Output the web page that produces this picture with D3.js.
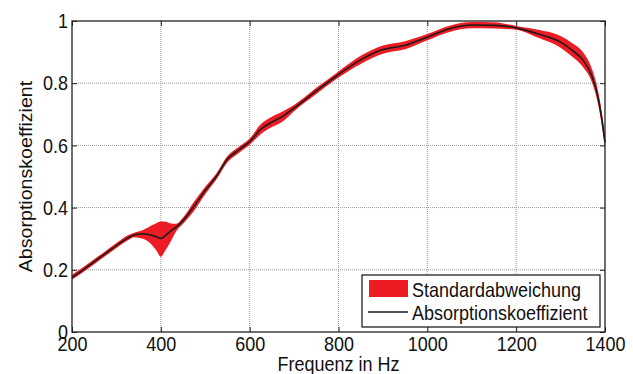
<!DOCTYPE html>
<html>
<head>
<meta charset="utf-8">
<script src="https://cdn.jsdelivr.net/npm/d3@7"></script>
<style>
  body { margin: 0; background: #fff; }
  text { font-family: "Liberation Sans", Arial, sans-serif; fill: #111; }
</style>
</head>
<body>
<svg id="chart" width="633" height="374"></svg>
<script>
// frequency points (Hz)
const freq = [200, 225, 250, 275, 300, 325, 340, 360, 380, 390, 400, 410, 420, 435, 450, 475,
  500, 525, 550, 575, 600, 625, 650, 675, 700, 750, 800, 850, 900, 950, 1000, 1050,
  1100, 1150, 1200, 1250, 1300, 1325, 1350, 1370, 1380, 1390, 1400];
// mean absorption coefficient
const absorption = [0.176, 0.200, 0.226, 0.252, 0.278, 0.302, 0.312, 0.316, 0.311, 0.306, 0.301, 0.310,
  0.322, 0.338, 0.358, 0.405, 0.455, 0.500, 0.556, 0.585, 0.612, 0.652, 0.675, 0.694, 0.720, 0.775,
  0.828, 0.875, 0.908, 0.922, 0.948, 0.975, 0.987, 0.986, 0.978, 0.958, 0.932, 0.907, 0.875, 0.825,
  0.780, 0.710, 0.610];
// standard deviation band: upper and lower bounds
const bandUpper = [0.184, 0.208, 0.234, 0.260, 0.286, 0.310, 0.319, 0.328, 0.343, 0.350, 0.355, 0.355,
  0.350, 0.348, 0.368, 0.420, 0.467, 0.510, 0.566, 0.595, 0.622, 0.668, 0.692, 0.710, 0.730, 0.785,
  0.838, 0.888, 0.921, 0.935, 0.958, 0.985, 0.997, 0.996, 0.984, 0.972, 0.952, 0.930, 0.900, 0.848,
  0.802, 0.732, 0.632];
const bandLower = [0.168, 0.192, 0.218, 0.244, 0.270, 0.294, 0.305, 0.300, 0.280, 0.262, 0.242, 0.262,
  0.285, 0.325, 0.348, 0.390, 0.443, 0.490, 0.546, 0.575, 0.602, 0.636, 0.659, 0.678, 0.710, 0.765,
  0.818, 0.862, 0.895, 0.909, 0.938, 0.965, 0.977, 0.976, 0.972, 0.946, 0.914, 0.887, 0.853, 0.805,
  0.760, 0.690, 0.590];

const xTicks = [200, 400, 600, 800, 1000, 1200, 1400];
const yTicks = [0, 0.2, 0.4, 0.6, 0.8, 1];

const plotLeft = 72, plotRight = 605, plotTop = 21, plotBottom = 332;
const stretch = 1.15; // text in the reference is a bit taller than wide

const svg = d3.select("#chart");

const x = d3.scaleLinear().domain([200, 1400]).range([plotLeft, plotRight]);
const y = d3.scaleLinear().domain([0, 1]).range([plotBottom, plotTop]);

// grid
svg.append("g").selectAll("line")
  .data(xTicks.slice(1, -1))
  .enter().append("line")
  .attr("x1", d => x(d)).attr("x2", d => x(d))
  .attr("y1", plotTop).attr("y2", plotBottom)
  .attr("stroke", "#999").attr("stroke-dasharray", "1,1");
svg.append("g").selectAll("line")
  .data(yTicks.slice(1, -1))
  .enter().append("line")
  .attr("x1", plotLeft).attr("x2", plotRight)
  .attr("y1", d => y(d)).attr("y2", d => y(d))
  .attr("stroke", "#999").attr("stroke-dasharray", "1,1");

const data = freq.map((f, i) => ({ f: f, m: absorption[i], hi: bandUpper[i], lo: bandLower[i] }));

svg.append("path")
  .datum(data)
  .attr("fill", "#ed1c24")
  .attr("d", d3.area().curve(d3.curveMonotoneX)
    .x(d => x(d.f)).y0(d => y(d.lo)).y1(d => y(d.hi)));

svg.append("path")
  .datum(data)
  .attr("fill", "none")
  .attr("stroke", "#1a1a1a")
  .attr("stroke-width", 1.6)
  .attr("d", d3.line().curve(d3.curveMonotoneX).x(d => x(d.f)).y(d => y(d.m)));

// axes
const fmtY = d => String(+d.toFixed(1));

const gx = svg.append("g")
  .attr("transform", "translate(0," + plotBottom + ")")
  .call(d3.axisBottom(x).tickValues(xTicks).tickSize(-5).tickPadding(4).tickFormat(d3.format("d")));
const gy = svg.append("g")
  .attr("transform", "translate(" + plotLeft + ",0)")
  .call(d3.axisLeft(y).tickValues(yTicks).tickSize(-5).tickPadding(4).tickFormat(fmtY));
const gt = svg.append("g")
  .attr("transform", "translate(0," + plotTop + ")")
  .call(d3.axisTop(x).tickValues(xTicks).tickSize(-5).tickFormat(""));
const gr = svg.append("g")
  .attr("transform", "translate(" + plotRight + ",0)")
  .call(d3.axisRight(y).tickValues(yTicks).tickSize(-5).tickFormat(""));

[gx, gy, gt, gr].forEach(g => {
  g.select(".domain").remove();
  g.selectAll("line").attr("stroke", "#222");
  g.selectAll("text")
    .attr("fill", "#111")
    .style("font-size", "18px")
    .style("font-family", "'Liberation Sans', Arial, sans-serif");
});
gx.selectAll("text").attr("transform", "scale(1," + stretch + ")");
gy.selectAll("text").attr("transform", "scale(1," + stretch + ")");

svg.append("rect")
  .attr("x", plotLeft).attr("y", plotTop)
  .attr("width", plotRight - plotLeft).attr("height", plotBottom - plotTop)
  .attr("fill", "none").attr("stroke", "#222").attr("stroke-width", 1.3);

// axis labels
svg.append("text")
  .attr("transform", "translate(" + ((plotLeft + plotRight) / 2) + ",371) scale(1," + stretch + ")")
  .attr("text-anchor", "middle")
  .style("font-size", "18px")
  .text("Frequenz in Hz");

svg.append("text")
  .attr("transform", "translate(32," + ((plotTop + plotBottom) / 2) + ") rotate(-90) scale(1.09,1)")
  .attr("text-anchor", "middle")
  .style("font-size", "18px")
  .text("Absorptionskoeffizient");

// legend
const lg = svg.append("g");
lg.append("rect")
  .attr("x", 362).attr("y", 275).attr("width", 238).attr("height", 52)
  .attr("fill", "#fff").attr("stroke", "#222").attr("stroke-width", 1.3);
lg.append("rect")
  .attr("x", 369).attr("y", 280).attr("width", 39).attr("height", 17)
  .attr("fill", "#ed1c24");
lg.append("line")
  .attr("x1", 368).attr("x2", 408).attr("y1", 312).attr("y2", 312)
  .attr("stroke", "#1a1a1a").attr("stroke-width", 1.6);
lg.append("text")
  .attr("transform", "translate(412,297) scale(1," + stretch + ")")
  .style("font-size", "18px")
  .text("Standardabweichung");
lg.append("text")
  .attr("transform", "translate(412,320) scale(1," + stretch + ")")
  .style("font-size", "18px")
  .text("Absorptionskoeffizient");
</script>
</body>
</html>
